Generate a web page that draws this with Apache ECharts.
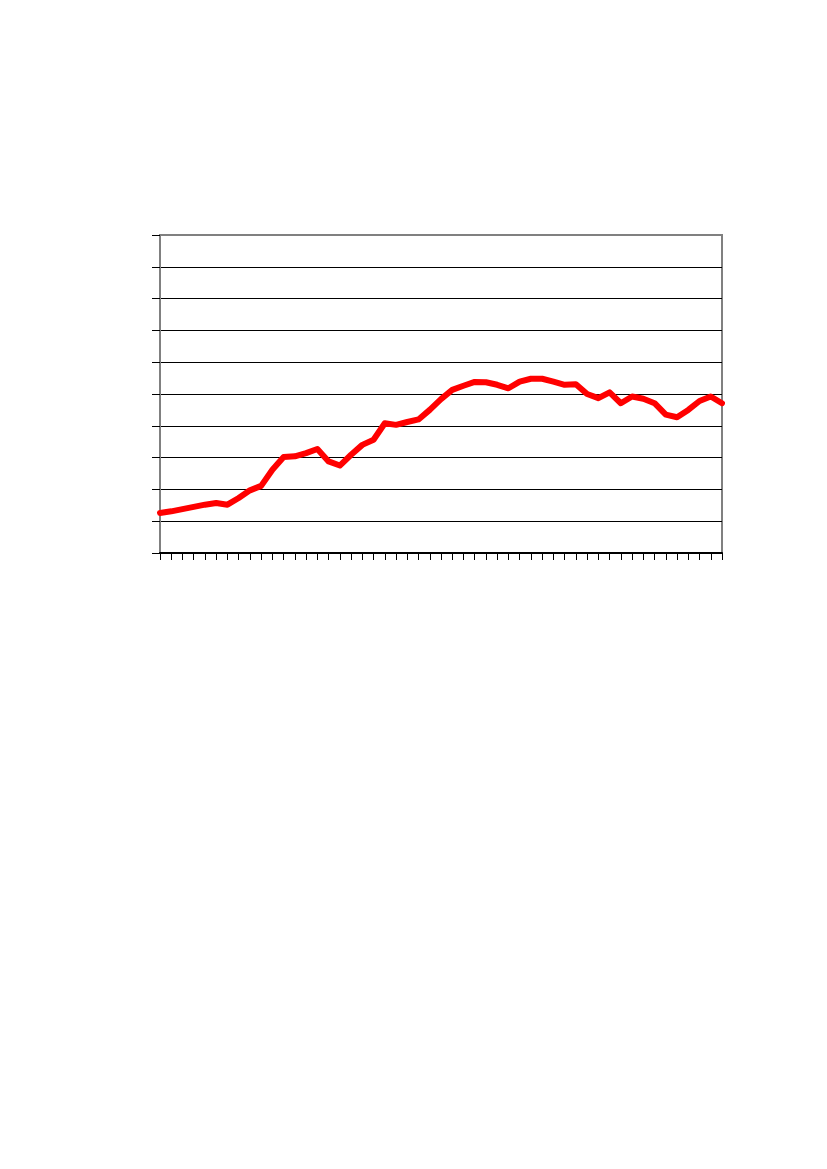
<!DOCTYPE html>
<html>
<head>
<meta charset="utf-8">
<script src="https://cdn.jsdelivr.net/npm/echarts@6/dist/echarts.min.js"></script>
<style>
html,body{margin:0;padding:0;background:#fff;}
#chart{width:827px;height:1169px;}
</style>
</head>
<body>
<div id="chart"></div>
<script>
const categories = Array.from({length: 51}, (_, i) => String(i + 1));
const seriesValues = [1.26,1.31,1.38,1.45,1.52,1.57,1.52,1.73,1.97,2.11,2.62,3.02,3.04,3.14,3.27,2.88,2.75,3.09,3.40,3.56,4.08,4.03,4.12,4.20,4.50,4.84,5.13,5.26,5.38,5.37,5.29,5.18,5.39,5.48,5.48,5.39,5.29,5.31,5.00,4.87,5.05,4.71,4.92,4.85,4.71,4.35,4.27,4.50,4.78,4.92,4.71];
const yMin = 0, yMax = 10, yStep = 1;

const splitColors = [];
for (let i = 0; i < (yMax - yMin) / yStep; i++) splitColors.push('#000000');
splitColors.push('#808080');

const chart = echarts.init(document.getElementById('chart'), null, {renderer: 'canvas'});
chart.setOption({
  animation: false,
  backgroundColor: '#ffffff',
  grid: {left: 160, right: 105, top: 235, bottom: 616, show: true, borderColor: '#808080', borderWidth: 2, backgroundColor: 'transparent'},
  xAxis: {
    type: 'category',
    data: categories,
    boundaryGap: false,
    axisLine: {show: true, lineStyle: {color: '#000000', width: 2}},
    axisTick: {show: true, interval: 0, length: 7, lineStyle: {color: '#000000', width: 1}},
    axisLabel: {show: false},
    splitLine: {show: false}
  },
  yAxis: {
    type: 'value',
    min: yMin, max: yMax, interval: yStep,
    axisLine: {show: true, lineStyle: {color: '#808080', width: 2}},
    axisTick: {show: true, length: 8, lineStyle: {color: '#000000', width: 1}},
    axisLabel: {show: false},
    splitLine: {show: true, lineStyle: {color: splitColors, width: 1}}
  },
  series: [{
    type: 'line',
    data: seriesValues,
    symbol: 'none',
    smooth: false,
    lineStyle: {color: '#ff0000', width: 6, join: 'round', cap: 'round'}
  }]
});
</script>
</body>
</html>
